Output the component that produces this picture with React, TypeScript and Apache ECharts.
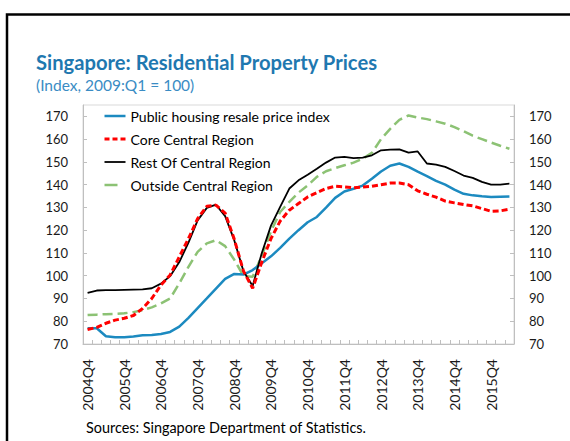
import React, { useEffect, useRef } from "react";
import * as echarts from "echarts";

const quarters = [
  "2004Q4", "2005Q1", "2005Q2", "2005Q3", "2005Q4", "2006Q1", "2006Q2", "2006Q3",
  "2006Q4", "2007Q1", "2007Q2", "2007Q3", "2007Q4", "2008Q1", "2008Q2", "2008Q3",
  "2008Q4", "2009Q1", "2009Q2", "2009Q3", "2009Q4", "2010Q1", "2010Q2", "2010Q3",
  "2010Q4", "2011Q1", "2011Q2", "2011Q3", "2011Q4", "2012Q1", "2012Q2", "2012Q3",
  "2012Q4", "2013Q1", "2013Q2", "2013Q3", "2013Q4", "2014Q1", "2014Q2", "2014Q3",
  "2014Q4", "2015Q1", "2015Q2", "2015Q3", "2015Q4", "2016Q1", "2016Q2",
];

const publicHousing = [
  76.9, 76.9, 73.4, 73.0, 73.0, 73.3, 73.8, 74.0, 74.4, 75.3, 77.6, 81.5, 85.8, 90.0, 94.3, 98.6,
  100.8, 100.5, 102.5, 105.5, 108.5, 112.2, 116.3, 120.0, 123.5, 125.8, 129.9, 134.2, 137.0, 138.2,
  139.6, 142.6, 145.8, 148.3, 149.3, 147.8, 145.7, 143.8, 141.7, 140.0, 137.8, 136.0, 135.3, 134.9,
  134.6, 134.7, 134.8,
];

const coreCentral = [
  76.4, 77.3, 79.1, 80.5, 81.3, 82.5, 85.6, 90.0, 95.9, 100.3, 108.3, 116.3, 125.1, 130.5, 131.0, 127.5,
  116.0, 102.0, 94.5, 106.0, 116.3, 124.0, 128.8, 131.7, 134.6, 136.5, 138.3, 139.3, 139.0, 138.6,
  139.0, 139.3, 140.0, 140.7, 140.7, 140.0, 137.3, 135.8, 134.5, 132.8, 132.0, 131.3, 130.7, 129.5,
  128.3, 128.5, 129.2,
];

const restOfCentral = [
  92.5, 93.5, 93.7, 93.7, 93.8, 93.9, 94.0, 94.5, 96.5, 99.8, 106.0, 114.5, 124.3, 129.8, 131.2, 126.2,
  115.5, 102.0, 95.5, 110.0, 122.0, 130.2, 138.3, 141.9, 144.4, 147.0, 149.7, 151.9, 152.2, 151.7,
  151.9, 152.9, 155.1, 155.4, 155.5, 154.1, 154.6, 149.3, 148.8, 147.8, 146.0, 144.0, 143.0, 141.2,
  140.0, 140.0, 140.5,
];

const outsideCentral = [
  82.7, 82.9, 83.1, 83.2, 83.5, 84.0, 84.9, 86.1, 87.8, 90.0, 96.6, 103.9, 110.5, 114.2, 115.6, 113.0,
  107.0, 99.8, 99.5, 108.8, 119.5, 128.0, 132.4, 136.5, 139.7, 143.4, 145.9, 147.3, 148.5, 149.7,
  151.4, 154.0, 160.0, 164.5, 168.5, 170.4, 169.5, 168.8, 167.8, 166.8, 165.3, 163.5, 161.5, 160.0,
  158.5, 157.1, 155.8,
];

const seriesNames = [
  "Public housing resale price index",
  "Core Central Region",
  "Rest Of Central Region",
  "Outside Central Region",
];

const titleText = "Singapore: Residential Property Prices";
const subtitleText = "(Index, 2009:Q1 = 100)";
const sourceText = "Sources: Singapore Department of Statistics.";

const FONT = "Lato, 'Open Sans', sans-serif";
const AXIS_GRAY = "#BFBFBF";

const BLUE = "#1C8AC0";
const RED = "#FF0000";
const BLACK = "#000000";
const GREEN = "#8CC274";

export default function App() {
  const ref = useRef<HTMLDivElement>(null);

  useEffect(() => {
    if (!ref.current) return;
    const chart = echarts.init(ref.current, undefined, { renderer: "svg" });

    const yAxisCommon = {
      type: "value" as const,
      min: 70,
      max: 175,
      interval: 10,
      axisLine: { show: true, lineStyle: { color: AXIS_GRAY, width: 1 } },
      axisTick: { show: true, inside: true, length: 4, lineStyle: { color: AXIS_GRAY } },
      splitLine: { show: false },
      axisLabel: {
        showMaxLabel: false,
        margin: 15,
        color: "#1a1a1a",
        fontSize: 13,
        fontFamily: FONT,
      },
    };

    chart.setOption({
      animation: false,
      backgroundColor: "#ffffff",
      textStyle: { fontFamily: FONT },
      grid: {
        left: 83,
        right: 56,
        top: 105,
        bottom: 97,
        show: true,
        borderColor: "#D9D9D9",
        borderWidth: 1,
        containLabel: false,
      },
      legend: {
        orient: "vertical",
        left: 103,
        top: 109,
        padding: 0,
        itemWidth: 21,
        itemHeight: 14,
        itemGap: 9,
        data: [
          { name: seriesNames[0], lineStyle: { width: 2.5 } },
          { name: seriesNames[1], lineStyle: { width: 3, type: [5, 3] } },
          { name: seriesNames[2], lineStyle: { width: 1.8 } },
          { name: seriesNames[3], lineStyle: { width: 2.5, type: [13, 20] } },
        ],
        itemStyle: { opacity: 0 },
        textStyle: { fontSize: 14, color: "#000000", fontFamily: FONT },
      },
      xAxis: {
        type: "category",
        data: quarters,
        boundaryGap: true,
        axisLine: { show: true, lineStyle: { color: AXIS_GRAY, width: 1 } },
        axisTick: {
          show: true,
          inside: true,
          length: 4,
          interval: 0,
          lineStyle: { color: AXIS_GRAY },
        },
        axisLabel: {
          interval: 3,
          rotate: 90,
          margin: 15,
          color: "#1a1a1a",
          fontSize: 14,
          fontFamily: FONT,
        },
        splitLine: { show: false },
      },
      yAxis: [
        { ...yAxisCommon, position: "left" },
        { ...yAxisCommon, position: "right" },
      ],
      graphic: [
        {
          type: "rect",
          silent: true,
          shape: { x: 7, y: 14.5, width: 800, height: 600 },
          style: { fill: "none", stroke: "#000000", lineWidth: 2.5 },
        },
        {
          type: "text",
          left: 36,
          top: 52,
          style: {
            text: titleText,
            fill: "#1F78B0",
            font: `bold 20.2px ${FONT}`,
          },
        },
        {
          type: "text",
          left: 36,
          top: 77,
          style: {
            text: subtitleText,
            fill: "#3A8CC4",
            font: `15.5px ${FONT}`,
          },
        },
        {
          type: "text",
          left: 86,
          top: 420,
          style: {
            text: sourceText,
            fill: "#000000",
            font: `14.4px ${FONT}`,
          },
        },
      ],
      series: [
        {
          name: seriesNames[3],
          type: "line",
          data: outsideCentral,
          symbol: "none",
          lineStyle: { color: GREEN, width: 2.5, type: [10, 5] },
          itemStyle: { color: GREEN },
          z: 2,
        },
        {
          name: seriesNames[0],
          type: "line",
          data: publicHousing,
          symbol: "none",
          lineStyle: { color: BLUE, width: 2.5 },
          itemStyle: { color: BLUE },
          z: 3,
        },
        {
          name: seriesNames[2],
          type: "line",
          data: restOfCentral,
          symbol: "none",
          lineStyle: { color: BLACK, width: 1.8 },
          itemStyle: { color: BLACK },
          z: 4,
        },
        {
          name: seriesNames[1],
          type: "line",
          data: coreCentral,
          symbol: "none",
          lineStyle: { color: RED, width: 3, type: [6, 3] },
          itemStyle: { color: RED },
          z: 5,
        },
      ],
    });

    return () => chart.dispose();
  }, []);

  return (
    <div
      ref={ref}
      style={{ position: "fixed", left: 0, top: 0, width: 570, height: 441 }}
    />
  );
}
